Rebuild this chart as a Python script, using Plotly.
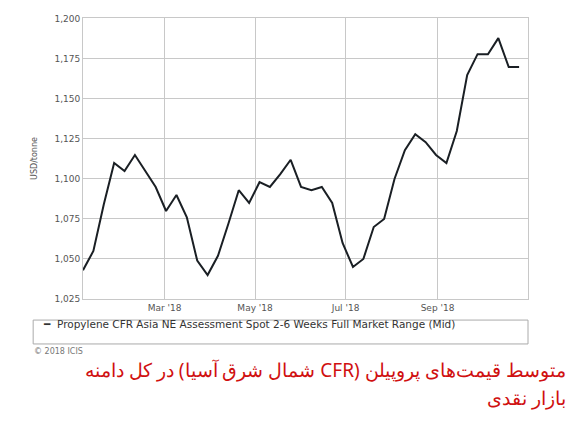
import pandas as pd
import plotly.graph_objects as go

# weekly assessments, USD/tonne
dates = pd.date_range("2018-01-05", periods=43, freq="7D")
prices = [1043, 1055, 1084, 1110, 1105, 1115, 1105, 1095, 1080, 1090, 1076,
          1049, 1040, 1052, 1072, 1093, 1085, 1098, 1095, 1103, 1112, 1095,
          1093, 1095, 1085, 1060, 1045, 1050, 1070, 1075, 1100, 1118, 1128,
          1123, 1115, 1110, 1130, 1165, 1178, 1178, 1188, 1170, 1170]
tick_dates = ["2018-03-01", "2018-05-01", "2018-07-01", "2018-09-01"]
tick_labels = ["Mar '18", "May '18", "Jul '18", "Sep '18"]
y_ticks = [1025, 1050, 1075, 1100, 1125, 1150, 1175, 1200]

fig = go.Figure()
fig.add_trace(go.Scatter(x=dates, y=prices, mode="lines",
                         line=dict(color="#1a1f24", width=2)))

fig.update_layout(
    width=576, height=433,
    margin=dict(l=75, r=56, t=6, b=142, pad=0),
    paper_bgcolor="white", plot_bgcolor="white",
    font=dict(family="DejaVu Sans", size=9, color="#555"),
    showlegend=False,
)
fig.update_xaxes(range=[dates[0], pd.Timestamp("2018-11-01")],
                 tickvals=tick_dates, ticktext=tick_labels,
                 showgrid=True, gridcolor="#c8c8c8", showline=True,
                 linecolor="#c8c8c8", mirror=True, ticks="")
fig.update_yaxes(range=[1025, 1200.6], tickvals=y_ticks, tickformat=",",
                 showgrid=True, gridcolor="#c8c8c8", showline=True,
                 linecolor="#c8c8c8", mirror=True, ticks="",
                 title=dict(text="USD/tonne", font=dict(size=8)))

# legend box
fig.add_shape(type="rect", xref="paper", yref="paper",
              x0=-0.112, x1=1.0, y0=-0.16, y1=-0.075,
              line=dict(color="#aaa", width=1))
fig.add_annotation(xref="paper", yref="paper", x=-0.095, y=-0.117,
                   xanchor="left", showarrow=False,
                   text="<b>━</b>  Propylene CFR Asia NE Assessment Spot 2-6 Weeks Full Market Range (Mid)",
                   font=dict(size=10.5, color="#333"))
fig.add_annotation(xref="paper", yref="paper", x=-0.115, y=-0.21,
                   xanchor="left", showarrow=False, text="© 2018 ICIS",
                   font=dict(size=8, color="#777"))
fig.add_annotation(xref="paper", yref="paper", x=1.09, y=-0.305,
                   xanchor="right", showarrow=False,
                   text="\u202bمتوسط قیمت‌های پروپیلن (CFR شمال شرق آسیا) در کل دامنه\u202c",
                   font=dict(size=19, color="#d01010", family="Noto Sans"))
fig.add_annotation(xref="paper", yref="paper", x=1.09, y=-0.405,
                   xanchor="right", showarrow=False, text="\u202bبازار نقدی\u202c",
                   font=dict(size=19, color="#d01010", family="Noto Sans"))

fig.write_html("out.html")
